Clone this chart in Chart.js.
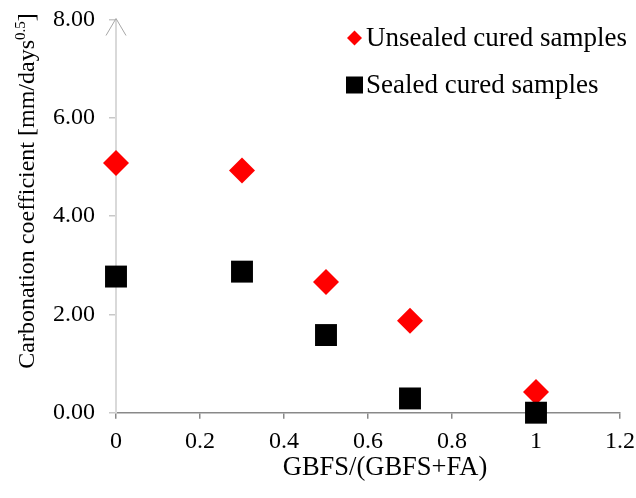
<!DOCTYPE html>
<html>
<head>
<meta charset="utf-8">
<script src="https://cdn.jsdelivr.net/npm/chart.js@4.4.0/dist/chart.umd.min.js"></script>
<style>
  html, body { margin: 0; padding: 0; background: #fff; }
</style>
</head>
<body>
<canvas id="myChart" width="636" height="498"></canvas>
<script>
// data
var ratios = [0, 0.3, 0.5, 0.7, 1];
var unsealed = [5.08, 4.93, 2.66, 1.87, 0.42];
var sealed = [2.77, 2.87, 1.58, 0.29, 0.0];
var seriesNames = ['Unsealed cured samples', 'Sealed cured samples'];
var yTitle = 'Carbonation coefficient [mm/days';
var yTitleSup = '0.5';
var xTitle = 'GBFS/(GBFS+FA)';

var FONT = "'Liberation Serif', 'Times New Roman', serif";

function toPoints(xs, ys) {
  return xs.map(function (x, i) { return { x: x, y: ys[i] }; });
}

// let the layout padding alone decide where the plot area sits
function noEdgePadding(scale) {
  scale.paddingTop = 0;
  scale.paddingBottom = 0;
  scale.paddingLeft = 0;
  scale.paddingRight = 0;
}

// axis titles (y has a superscript), arrow on top of y axis, legend
var extras = {
  id: 'extras',
  afterDraw: function (chart) {
    var ctx = chart.ctx;
    var area = chart.chartArea;
    var x0 = area.left;

    // arrow head
    ctx.save();
    ctx.strokeStyle = '#a6a6a6';
    ctx.lineWidth = 1;
    ctx.beginPath();
    ctx.moveTo(x0 - 10, area.top + 16);
    ctx.lineTo(x0, area.top - 1);
    ctx.lineTo(x0 + 10, area.top + 16);
    ctx.stroke();
    ctx.restore();

    // x title
    ctx.save();
    ctx.fillStyle = '#000';
    ctx.font = '26.5px ' + FONT;
    ctx.textAlign = 'center';
    ctx.textBaseline = 'middle';
    ctx.fillText(xTitle, 385, 468);
    ctx.restore();

    // y title
    ctx.save();
    ctx.fillStyle = '#000';
    ctx.textBaseline = 'alphabetic';
    ctx.font = '24px ' + FONT;
    var w1 = ctx.measureText(yTitle).width;
    var w3 = ctx.measureText(']').width;
    ctx.font = '15px ' + FONT;
    var w2 = ctx.measureText(yTitleSup).width;
    var total = w1 + w2 + w3;
    ctx.translate(34, 191);
    ctx.rotate(-Math.PI / 2);
    var sx = -total / 2;
    ctx.font = '24px ' + FONT;
    ctx.fillText(yTitle, sx, 0);
    ctx.font = '15px ' + FONT;
    ctx.fillText(yTitleSup, sx + w1, -9);
    ctx.font = '24px ' + FONT;
    ctx.fillText(']', sx + w1 + w2, 0);
    ctx.restore();

    // legend
    ctx.save();
    ctx.font = '27px ' + FONT;
    ctx.textBaseline = 'middle';
    var rows = [38, 85];
    chart.data.datasets.forEach(function (ds, i) {
      var cy = rows[i];
      var cx = 354.5;
      ctx.fillStyle = ds.backgroundColor;
      ctx.beginPath();
      if (ds.pointStyle === 'rectRot') {
        ctx.moveTo(cx, cy - 7.5);
        ctx.lineTo(cx + 7.5, cy);
        ctx.lineTo(cx, cy + 7.5);
        ctx.lineTo(cx - 7.5, cy);
        ctx.closePath();
      } else {
        ctx.rect(cx - 8.5, cy - 8.5, 17, 17);
      }
      ctx.fill();
      ctx.fillStyle = '#000';
      ctx.fillText(ds.label, 366, cy + 1);
    });
    ctx.restore();
  }
};

var ctx = document.getElementById('myChart').getContext('2d');

var myChart = new Chart(ctx, {
  type: 'scatter',
  data: {
    datasets: [{
      label: seriesNames[0],
      data: toPoints(ratios, unsealed),
      pointStyle: 'rectRot',
      pointRadius: 13,
      pointHoverRadius: 13,
      backgroundColor: '#ff0000',
      borderColor: '#ff0000',
      borderWidth: 0,
      clip: false,
      order: 1
    }, {
      label: seriesNames[1],
      data: toPoints(ratios, sealed),
      pointStyle: 'rect',
      pointRadius: 15.5,
      pointHoverRadius: 15.5,
      backgroundColor: '#000000',
      borderColor: '#000000',
      borderWidth: 0,
      clip: false,
      order: 0
    }]
  },
  options: {
    responsive: false,
    animation: false,
    devicePixelRatio: 1,
    layout: {
      padding: { left: 39, right: 16, top: 19.5, bottom: 32.5 }
    },
    plugins: {
      legend: { display: false },
      tooltip: { enabled: false }
    },
    scales: {
      x: {
        type: 'linear',
        min: 0,
        max: 1.2,
        afterFit: noEdgePadding,
        ticks: {
          stepSize: 0.2,
          color: '#000',
          padding: 9,
          font: { family: FONT, size: 24 },
          callback: function (v) { return String(+v.toFixed(1)); }
        },
        grid: {
          drawOnChartArea: false,
          drawTicks: true,
          tickLength: 6,
          color: '#898989',
          lineWidth: 1.5
        },
        border: { color: '#898989', width: 1.5 }
      },
      y: {
        type: 'linear',
        min: 0,
        max: 8,
        afterFit: noEdgePadding,
        ticks: {
          stepSize: 2,
          color: '#000',
          padding: 14,
          font: { family: FONT, size: 24 },
          callback: function (v) { return v.toFixed(2); }
        },
        grid: {
          drawOnChartArea: false,
          drawTicks: true,
          tickLength: 7,
          color: '#c8c8c8',
          lineWidth: 1.5
        },
        border: { color: '#d9d9d9', width: 2 }
      }
    }
  },
  plugins: [extras]
});
</script>
</body>
</html>
